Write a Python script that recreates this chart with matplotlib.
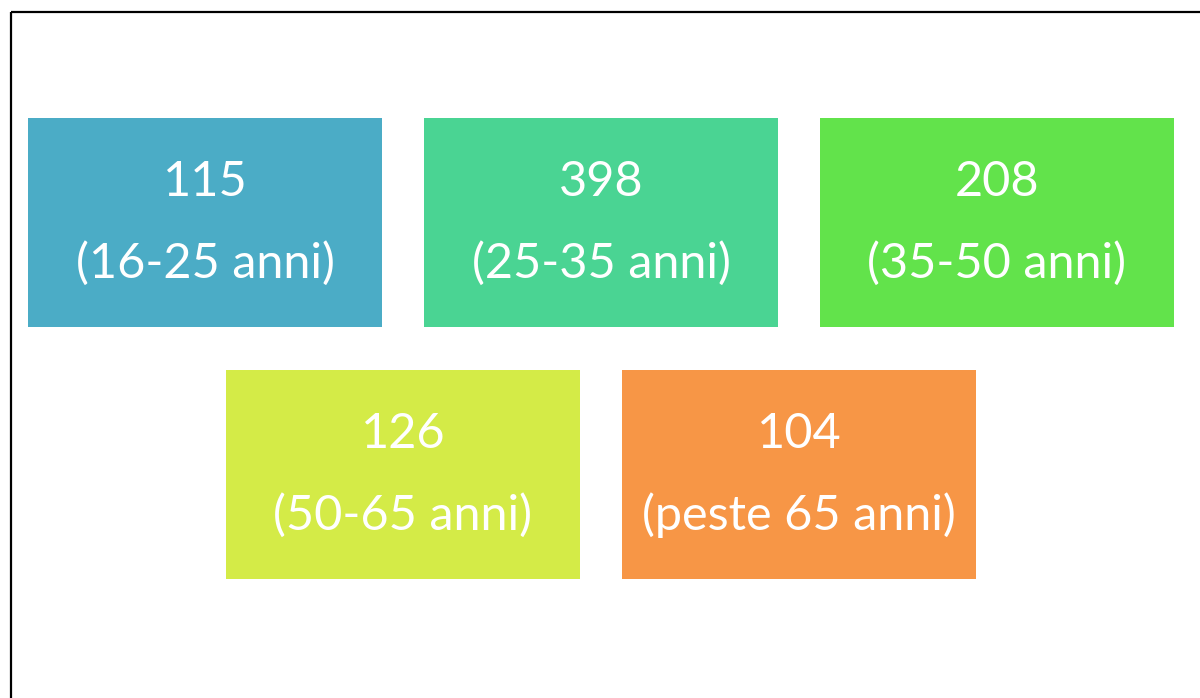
import matplotlib
matplotlib.use("Agg")
import matplotlib.pyplot as plt
from matplotlib.patches import Rectangle

counts = [115, 398, 208, 126, 104]
age_groups = ["(16-25 anni)", "(25-35 anni)", "(35-50 anni)", "(50-65 anni)", "(peste 65 anni)"]
colors = ["#4BACC6", "#4AD493", "#62E34B", "#D4EB47", "#F79646"]

W, H = 1200, 698
fig = plt.figure(figsize=(W / 100, H / 100), dpi=100)
ax = fig.add_axes([0, 0, 1, 1])
ax.set_xlim(0, W)
ax.set_ylim(H, 0)
ax.axis("off")

# frame lines (top and left)
ax.plot([10.5, W], [12, 12], color="black", lw=1.6, solid_capstyle="butt")
ax.plot([10.5, 10.5], [12, H], color="black", lw=1.6, solid_capstyle="butt")

box_w, box_h, gap = 354, 209, 42
row_tops = [118, 370]
row_lefts = [[28, 28 + box_w + gap, 28 + 2 * (box_w + gap)],
             [226, 226 + box_w + gap]]

idx = 0
for r, lefts in enumerate(row_lefts):
    for x0 in lefts:
        y0 = row_tops[r]
        ax.add_patch(Rectangle((x0, y0), box_w, box_h, facecolor=colors[idx],
                               edgecolor="none"))
        cx = x0 + box_w / 2
        cy = y0 + box_h / 2
        ax.text(cx, cy - 41, str(counts[idx]), color="white", fontsize=35,
                family="Lato", ha="center", va="center")
        ax.text(cx, cy + 41, age_groups[idx], color="white", fontsize=35,
                family="Lato", ha="center", va="center")
        idx += 1

fig.savefig("out.png", dpi=100)
